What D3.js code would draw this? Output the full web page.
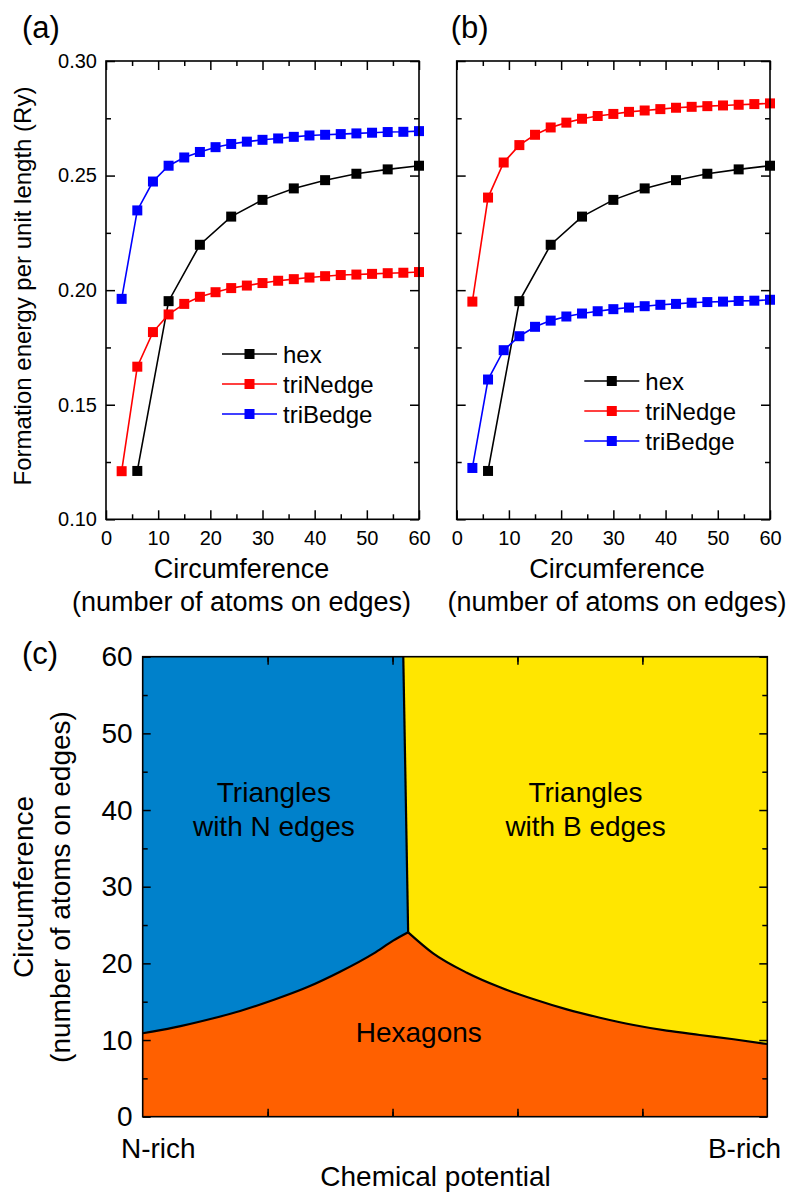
<!DOCTYPE html>
<html>
<head>
<meta charset="utf-8">
<script src="https://d3js.org/d3.v7.min.js"></script>
<style>
  body { margin: 0; background: #fff; }
  svg { display: block; font-family: "Liberation Sans", Arial, sans-serif; }
  .frame { fill: none; stroke: #000; stroke-width: 1.6; }
  .tick line { stroke: #000; stroke-width: 1.5; }
  .domain { display: none; }
</style>
</head>
<body>
<svg width="795" height="1192"></svg>
<script>
// ---- data, panels (a) and (b) ----
const triX = [3, 6, 9, 12, 15, 18, 21, 24, 27, 30, 33, 36, 39, 42, 45, 48, 51, 54, 57, 60];
const hexX = [6, 12, 18, 24, 30, 36, 42, 48, 54, 60];
const hexE = [0.1211, 0.1952, 0.2198, 0.2321, 0.2394, 0.2444, 0.2480, 0.2508, 0.2527, 0.2543];

const aTriN = [0.1210, 0.1666, 0.1817, 0.1894, 0.1940, 0.1971, 0.1991, 0.2009, 0.2020, 0.2031,
               0.2041, 0.2048, 0.2055, 0.2061, 0.2066, 0.2068, 0.2071, 0.2074, 0.2076, 0.2079];
const aTriB = [0.1962, 0.2348, 0.2474, 0.2543, 0.2579, 0.2603, 0.2624, 0.2638, 0.2648, 0.2656,
               0.2662, 0.2669, 0.2675, 0.2678, 0.2681, 0.2684, 0.2687, 0.2690, 0.2691, 0.2694];
const bTriN = [0.1950, 0.2404, 0.2557, 0.2633, 0.2678, 0.2710, 0.2731, 0.2748, 0.2760, 0.2769,
               0.2778, 0.2784, 0.2790, 0.2796, 0.2800, 0.2803, 0.2806, 0.2809, 0.2812, 0.2815];
const bTriB = [0.1224, 0.1610, 0.1738, 0.1799, 0.1840, 0.1867, 0.1885, 0.1898, 0.1908, 0.1917,
               0.1924, 0.1930, 0.1936, 0.1940, 0.1945, 0.1948, 0.1950, 0.1953, 0.1954, 0.1958];

const seriesNames = ['hex', 'triNedge', 'triBedge'];
const seriesColors = ['#000000', '#ff0000', '#0000ff'];

const xTicks = [0, 10, 20, 30, 40, 50, 60];
const yTicks = [0.10, 0.15, 0.20, 0.25, 0.30];

// ---- data, panel (c) ----
const leftMu  = [0, 0.049, 0.102, 0.156, 0.209, 0.263, 0.316, 0.370, 0.401, 0.425];
const leftC   = [10.88, 11.61, 12.61, 13.79, 15.22, 16.88, 18.91, 21.31, 22.96, 24.05];
const rightMu = [0.425, 0.465, 0.519, 0.572, 0.625, 0.679, 0.732, 0.786, 0.839, 0.892, 0.946, 1.0];
const rightC  = [24.05, 21.31, 18.78, 16.88, 15.35, 14.00, 12.91, 11.96, 11.22, 10.66, 10.10, 9.48];
const divMu   = [0.4172, 0.425];
const divC    = [60, 24.05];
const cTicks  = [0, 10, 20, 30, 40, 50, 60];
const regionLabels = [['Triangles', 'with N edges'], ['Triangles', 'with B edges'], ['Hexagons']];

const svg = d3.select('svg');

function minorAxes(g, x, y, xm, ym, big, small) {
  const b = y.range()[0], t = y.range()[1], l = x.range()[0], r = x.range()[1];
  // bottom / top / left / right, major + minor, ticks inward
  [[big, null], [small, xm]].forEach(function(s) {
    const vals = s[1] || null;
    g.append('g').attr('transform', 'translate(0,' + b + ')')
      .call(d3.axisBottom(x).tickValues(vals || x.ticksList).tickSize(-s[0]).tickFormat(''));
    g.append('g').attr('transform', 'translate(0,' + t + ')')
      .call(d3.axisTop(x).tickValues(vals || x.ticksList).tickSize(-s[0]).tickFormat(''));
  });
  [[big, null], [small, ym]].forEach(function(s) {
    const vals = s[1] || null;
    g.append('g').attr('transform', 'translate(' + l + ',0)')
      .call(d3.axisLeft(y).tickValues(vals || y.ticksList).tickSize(-s[0]).tickFormat(''));
    g.append('g').attr('transform', 'translate(' + r + ',0)')
      .call(d3.axisRight(y).tickValues(vals || y.ticksList).tickSize(-s[0]).tickFormat(''));
  });
}

function energyPanel(x0, x1, label, triN, triB, legX, legY, showY, titleX) {
  const x = d3.scaleLinear().domain([0, 60]).range([x0, x1]);
  const y = d3.scaleLinear().domain([0.10, 0.30]).range([519.3, 61]);
  x.ticksList = xTicks;
  y.ticksList = yTicks;
  const g = svg.append('g');

  const xMinor = d3.range(5, 60, 10);
  const yMinor = [0.125, 0.175, 0.225, 0.275];
  minorAxes(g, x, y, xMinor, yMinor, 9, 5);

  g.append('g').attr('transform', 'translate(0,519.3)')
    .call(d3.axisBottom(x).tickValues(xTicks).tickSize(0).tickPadding(12))
    .call(a => a.selectAll('text').attr('font-size', 20).attr('fill', '#000').attr('font-family', null));
  if (showY) {
    g.append('g').attr('transform', 'translate(' + x0 + ',0)')
      .call(d3.axisLeft(y).tickValues(yTicks).tickSize(0).tickPadding(9).tickFormat(d3.format('.2f')))
      .call(a => a.selectAll('text').attr('font-size', 20).attr('fill', '#000').attr('font-family', null));
    svg.append('text').attr('transform', 'translate(31,286) rotate(-90)')
      .attr('text-anchor', 'middle').attr('font-size', 24)
      .text('Formation energy per unit length (Ry)');
  }

  const data = [
    hexX.map((d, i) => [d, hexE[i]]),
    triX.map((d, i) => [d, triN[i]]),
    triX.map((d, i) => [d, triB[i]])
  ];
  const line = d3.line().x(d => x(d[0])).y(d => y(d[1]));
  data.forEach(function(s, k) {
    g.append('path').attr('d', line(s)).attr('fill', 'none')
      .attr('stroke', seriesColors[k]).attr('stroke-width', 1.6);
    g.selectAll(null).data(s).enter().append('rect')
      .attr('x', d => x(d[0]) - 5).attr('y', d => y(d[1]) - 5)
      .attr('width', 10).attr('height', 10).attr('fill', seriesColors[k]);
  });

  g.append('rect').attr('class', 'frame').attr('x', x0).attr('y', 61)
    .attr('width', x1 - x0).attr('height', 519.3 - 61);

  // legend
  seriesNames.forEach(function(n, k) {
    const ly = legY + k * 30;
    g.append('line').attr('x1', legX).attr('x2', legX + 55).attr('y1', ly).attr('y2', ly)
      .attr('stroke', seriesColors[k]).attr('stroke-width', 1.6);
    g.append('rect').attr('x', legX + 22.5).attr('y', ly - 5).attr('width', 10).attr('height', 10)
      .attr('fill', seriesColors[k]);
    g.append('text').attr('x', legX + 61).attr('y', ly + 8.5).attr('font-size', 24).text(n);
  });

  svg.append('text').attr('x', x0 - 84 + (label === '(b)' ? 78 : 0)).attr('y', 38)
    .attr('font-size', 31).text(label);
  svg.append('text').attr('x', titleX).attr('y', 578).attr('text-anchor', 'middle')
    .attr('font-size', 27).text('Circumference');
  svg.append('text').attr('x', titleX).attr('y', 611).attr('text-anchor', 'middle')
    .attr('font-size', 27).text('(number of atoms on edges)');
}

energyPanel(106, 419, '(a)', aTriN, aTriB, 222, 354, true, 241.5);
energyPanel(456.7, 770, '(b)', bTriN, bTriB, 584.3, 381, false, 617);

// ---- panel (c) ----
(function() {
  const x = d3.scaleLinear().domain([0, 1]).range([142.7, 767.3]);
  const y = d3.scaleLinear().domain([0, 60]).range([1116.7, 656.7]);
  x.ticksList = [0.2, 0.4, 0.6, 0.8];
  y.ticksList = cTicks;
  const g = svg.append('g');

  const left = leftMu.map((d, i) => [d, leftC[i]]);
  const right = rightMu.map((d, i) => [d, rightC[i]]);
  const div = divMu.map((d, i) => [d, divC[i]]);

  g.append('rect').attr('x', x(0)).attr('y', y(60)).attr('width', x(1) - x(0))
    .attr('height', y(0) - y(60)).attr('fill', '#ff6000');

  const curve = d3.line().x(d => x(d[0])).y(d => y(d[1])).curve(d3.curveMonotoneX);
  const pts = function(arr) { return arr.map(d => [x(d[0]), y(d[1])]); };
  const smooth = function(arr) {
    // sample the monotone curve densely so polygons follow it
    const p = document.createElementNS('http://www.w3.org/2000/svg', 'path');
    p.setAttribute('d', curve(arr));
    const L = p.getTotalLength(), out = [];
    for (let i = 0; i <= 200; i++) { const q = p.getPointAtLength(L * i / 200); out.push([q.x, q.y]); }
    return out;
  };
  const ls = smooth(left), rs = smooth(right);

  const blue = [[x(0), y(60)]].concat(pts(div), ls.slice().reverse());
  const yellow = [[x(1), y(60)], [x(divMu[0]), y(60)]].concat([[x(divMu[1]), y(divC[1])]], rs);
  g.append('path').attr('d', 'M' + blue.join('L') + 'Z').attr('fill', '#0081cb');
  g.append('path').attr('d', 'M' + yellow.join('L') + 'Z').attr('fill', '#ffe600');

  const bl = { fill: 'none', stroke: '#000', 'stroke-width': 2.2 };
  [curve(left), curve(right), d3.line().x(d => x(d[0])).y(d => y(d[1]))(div)].forEach(function(d) {
    const p = g.append('path').attr('d', d);
    Object.keys(bl).forEach(k => p.attr(k, bl[k]));
  });

  minorAxes(g, x, y, null, d3.range(5, 60, 10), 8, 5);
  g.selectAll('.tick line').attr('stroke-width', 1.5);

  g.append('g').attr('transform', 'translate(142.7,0)')
    .call(d3.axisLeft(y).tickValues(cTicks).tickSize(0).tickPadding(10))
    .call(a => a.selectAll('text').attr('font-size', 28).attr('fill', '#000').attr('font-family', null));

  g.append('rect').attr('class', 'frame').attr('x', x(0)).attr('y', y(60))
    .attr('width', x(1) - x(0)).attr('height', y(0) - y(60));

  const lab = [[0.21, 801.5], [0.709, 801.5], [0.442, 1041.5]];
  regionLabels.forEach(function(lines, k) {
    lines.forEach(function(t, j) {
      g.append('text').attr('x', x(lab[k][0])).attr('y', lab[k][1] + j * 34)
        .attr('text-anchor', 'middle').attr('font-size', 28).text(t);
    });
  });

  svg.append('text').attr('x', 121).attr('y', 1158).attr('font-size', 28).text('N-rich');
  svg.append('text').attr('x', 781).attr('y', 1158).attr('text-anchor', 'end')
    .attr('font-size', 28).text('B-rich');
  svg.append('text').attr('x', 435.5).attr('y', 1186).attr('text-anchor', 'middle')
    .attr('font-size', 28).text('Chemical potential');

  svg.append('text').attr('transform', 'translate(33,887) rotate(-90)')
    .attr('text-anchor', 'middle').attr('font-size', 28).text('Circumference');
  svg.append('text').attr('transform', 'translate(70,887) rotate(-90)')
    .attr('text-anchor', 'middle').attr('font-size', 28).text('(number of atoms on edges)');
  svg.append('text').attr('x', 22).attr('y', 664).attr('font-size', 31).text('(c)');
})();
</script>
</body>
</html>
